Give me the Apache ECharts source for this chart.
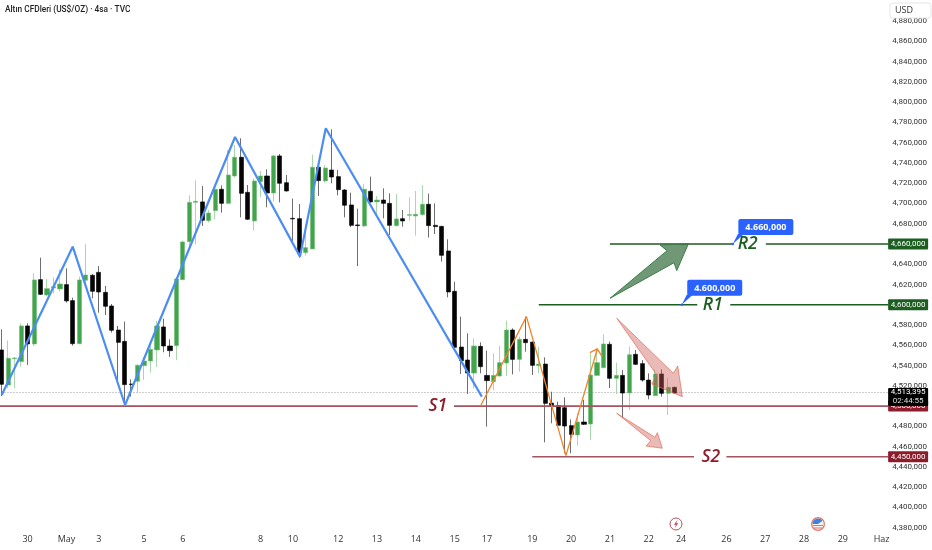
<!DOCTYPE html>
<html><head><meta charset="utf-8">
<style>html,body{margin:0;padding:0;background:#fff}#c{width:932px;height:550px}</style>
<script src="https://cdn.jsdelivr.net/npm/echarts@6/dist/echarts.min.js"></script>
</head><body><div id="c"></div>
<script>
const opens=[4555.4,4520.8,4546.8,4543.9,4579.1,4561.3,4624.8,4609.7,4616.6,4615.6,4619.9,4604.1,4561.6,4624.2,4629.1,4632.0,4612.3,4598.8,4575.1,4563.9,4521.8,4524.5,4539.9,4544.5,4555.4,4578.1,4559.3,4559.7,4624.8,4662.3,4701.1,4701.5,4683.0,4692.9,4714.0,4700.1,4727.1,4745.6,4711.0,4682.7,4721.5,4727.1,4710.3,4746.9,4720.5,4685.3,4685.0,4651.5,4655.1,4735.7,4722.2,4733.0,4726.5,4713.3,4698.5,4678.8,4677.8,4712.0,4701.5,4703.4,4700.1,4678.1,4685.0,4688.3,4687.6,4689.0,4699.2,4678.4,4677.4,4653.1,4613.3,4558.3,4545.5,4532.6,4559.0,4530.3,4524.1,4529.7,4542.5,4575.1,4546.1,4565.9,4563.2,4539.9,4541.5,4503.0,4500.4,4498.4,4480.7,4471.5,4484.3,4482.3,4530.3,4537.9,4561.0,4527.4,4530.3,4512.9,4551.1,4541.9,4525.7,4510.3,4531.7,4512.6,4518.5];
const closes=[4521.5,4547.2,4547.5,4579.1,4561.3,4624.5,4610.3,4615.9,4617.9,4620.5,4603.8,4561.6,4624.5,4629.4,4613.3,4612.6,4598.5,4574.8,4562.9,4521.2,4521.2,4540.3,4544.5,4556.0,4579.1,4559.3,4554.7,4625.5,4662.0,4701.1,4702.1,4683.4,4690.6,4714.0,4700.1,4728.1,4745.6,4710.0,4684.4,4722.2,4727.1,4710.3,4746.9,4719.9,4712.3,4684.7,4651.5,4656.4,4735.7,4722.5,4735.0,4726.1,4713.6,4698.2,4678.4,4678.1,4714.0,4701.5,4703.4,4700.1,4678.4,4684.7,4682.7,4689.0,4689.3,4699.2,4678.1,4677.1,4648.8,4612.6,4558.0,4544.8,4532.6,4559.3,4538.9,4525.1,4530.3,4542.9,4575.1,4546.1,4565.9,4562.6,4540.2,4541.5,4502.7,4500.1,4481.0,4480.3,4472.1,4484.3,4482.0,4530.7,4542.9,4561.3,4527.4,4530.3,4512.9,4550.7,4541.2,4525.7,4510.9,4531.7,4512.6,4518.5,4512.9];
const lows=[4510.0,4517.6,4517.6,4539.0,4540.6,4559.3,4609.7,4608.7,4611.3,4613.0,4602.1,4559.7,4561.3,4618.9,4606.4,4592.2,4589.9,4572.5,4525.8,4501.1,4509.3,4512.6,4525.8,4533.0,4538.9,4553.1,4548.5,4545.5,4624.5,4657.4,4659.7,4677.8,4681.4,4684.4,4690.9,4699.5,4725.8,4686.3,4683.7,4673.2,4706.1,4696.2,4701.8,4701.1,4711.7,4660.0,4646.5,4648.5,4655.1,4707.4,4720.5,4719.9,4708.0,4686.3,4676.5,4638.3,4676.5,4700.8,4689.6,4685.3,4668.9,4677.1,4677.1,4683.0,4668.2,4688.0,4666.3,4669.9,4642.6,4607.4,4557.4,4531.7,4511.9,4517.5,4532.3,4479.7,4515.9,4529.0,4529.7,4531.3,4534.0,4553.7,4530.7,4532.3,4464.2,4483.0,4480.3,4453.4,4453.4,4460.9,4481.3,4466.5,4529.7,4537.3,4517.8,4511.9,4488.9,4496.1,4540.6,4524.1,4506.7,4509.9,4509.3,4491.2,4512.3];
const highs=[4575.8,4564.6,4548.2,4581.7,4581.7,4631.1,4646.5,4625.5,4627.1,4635.0,4636.0,4607.0,4627.8,4659.7,4630.4,4638.3,4618.6,4600.8,4579.1,4583.4,4526.4,4541.2,4548.2,4560.3,4584.0,4586.3,4565.9,4625.5,4663.3,4708.0,4722.8,4717.3,4693.6,4717.3,4717.9,4752.8,4757.7,4764.3,4718.2,4724.8,4732.1,4733.7,4747.9,4748.8,4728.1,4704.8,4699.5,4679.8,4748.2,4736.3,4738.0,4773.2,4733.0,4714.3,4710.7,4694.9,4718.9,4726.5,4707.4,4714.9,4710.0,4709.4,4693.6,4706.1,4712.3,4718.2,4709.7,4700.1,4677.8,4664.6,4622.8,4588.3,4571.8,4566.9,4562.9,4554.7,4552.1,4559.6,4584.3,4576.7,4568.5,4588.3,4563.6,4558.6,4548.1,4514.2,4504.4,4508.6,4486.9,4492.8,4506.0,4552.1,4557.0,4570.8,4563.6,4542.9,4535.6,4558.6,4555.4,4545.5,4532.3,4535.6,4536.3,4527.4,4519.2];
const yTicks=[4380,4400,4420,4440,4460,4480,4500,4520,4540,4560,4580,4600,4620,4640,4660,4680,4700,4720,4740,4760,4780,4800,4820,4840,4860,4880];
const xTickAt=[4,10,15,22,28,40,45,52,58,64,70,75,82,88,94,100,105,112,118,124,130,136];
const xTickText=['30','May','3','5','6','8','10','12','13','14','15','17','19','20','21','22','24','26','27','28','29','Haz'];
const blueZigzag=[[0,4511.0],[10.97,4657.3],[19.06,4501.1],[36.06,4765.6],[46.1,4647.5],[50.08,4774.2],[74.2,4509.3]];
const orangeZigzag=[[74.0,4500.1],[81.1,4588.3],[87.2,4451.1],[92.05,4556.4],[null,null],[90.9,4552.7],[92.05,4556.4],[92.8,4548.8]];
const r2Line=[[94,4660],[113,4660],[null,null],[118.1,4660],[137,4660]];
const r1Line=[[83,4600],[107.5,4600],[null,null],[112.6,4600],[137,4600]];
const s1Line=[[-0.5,4500],[64.3,4500],[null,null],[69.9,4500],[137,4500]];
const s2Line=[[82,4450],[107,4450],[null,null],[112,4450],[137,4450]];
const lastPrice=4513.395;
const levelNames=[[115.3,4660,'R2','#1b5e20'],[109.9,4600,'R1','#1b5e20'],[67.4,4500,'S1','#8c1c2b'],[109.6,4450,'S2','#8c1c2b']];
const greenArrow=[[94.02,4606.4],[102.83,4653.4],[101.75,4659.0],[106.12,4660.0],[104.33,4633.7],[103.91,4641.5]];
const redArrowA=[[95.05,4586.7],[103.8,4532.4],[104.48,4539.6],[105.19,4509.3],[100.46,4521.8],[101.24,4530.7]];
const redArrowB=[[95.05,4492.9],[100.97,4469.2],[101.33,4473.8],[102.1,4458.4],[99.58,4460.6],[100.31,4465.9]];
const callouts=[[113,4660,'4.660,000'],[105.1,4600,'4.600,000']];
const axisTags=[[4600,'4,600,000','#1b5e20'],[4660,'4,660,000','#1b5e20'],[4500,'4,500,000','#8c1c2b'],[4450,'4,450,000','#8c1c2b']];

const GREEN='#43a54b',BLACK='#050505',WICK_G='#a9d8ac',WICK_B='#6e6e6e';
const TAGFONT='Roboto,sans-serif';
const categories=opens.map((_,i)=>i);
for(let i=opens.length;i<138;i++)categories.push(i);
const tickMap={};xTickAt.forEach((p,k)=>tickMap[p]=xTickText[k]);

const bandW=6.47,gridLeft=-1.5,gridW=bandW*138;
const ymin=4377.7,ymax=4900.8;

function lineSeries(data,color,width,type,z){
  return {type:'line',xAxisIndex:1,yAxisIndex:0,data,symbol:'none',silent:true,connectNulls:false,
    lineStyle:{color,width,type:type||'solid'},z:z||4,animation:false};
}
const arrows=[{pts:greenArrow,fill:'rgba(35,95,45,0.65)',stroke:'#3d7d45'},
              {pts:redArrowA,fill:'rgba(205,90,85,0.42)',stroke:'rgba(225,110,90,0.7)'},
              {pts:redArrowB,fill:'rgba(205,90,85,0.42)',stroke:'rgba(225,110,90,0.7)'}];

const option={
  animation:false,backgroundColor:'#fff',
  title:{text:'Altın CFDleri (US$/OZ) · 4sa · TVC',left:5,top:6,padding:0,
    textStyle:{fontFamily:'Roboto,sans-serif',fontSize:8.3,fontWeight:500,color:'#222'}},
  grid:{left:gridLeft,top:0,width:gridW,height:530,containLabel:false,outerBoundsMode:'none'},
  xAxis:[
   {type:'category',data:categories,boundaryGap:true,axisLine:{show:false},axisTick:{show:false},splitLine:{show:false},
    axisLabel:{interval:0,margin:5,fontSize:9,color:'#333',fontFamily:'"Open Sans",sans-serif',
      formatter:(v)=>tickMap[v]||''}},
   {type:'value',show:false,min:-0.5,max:137.5,splitLine:{show:false}}
  ],
  yAxis:{type:'value',position:'right',min:ymin,max:ymax,scale:true,axisLine:{show:false},axisTick:{show:false},splitLine:{show:false},
    axisLabel:{customValues:yTicks,margin:1,fontSize:8,color:'#333',fontFamily:TAGFONT,
      formatter:(v)=>Math.round(v*1000).toLocaleString('en-US')}},
  series:[
   lineSeries([[-0.5,lastPrice],[137,lastPrice]],'#9a9a9a',1,[1,2],1),
   {type:'candlestick',xAxisIndex:0,yAxisIndex:0,barWidth:1,z:2,silent:true,
    data:opens.map((o,i)=>[o,closes[i],lows[i],highs[i]]),
    itemStyle:{color:WICK_G,color0:WICK_B,borderColor:WICK_G,borderColor0:WICK_B,borderWidth:1}},
   {type:'candlestick',xAxisIndex:0,yAxisIndex:0,barWidth:4.6,z:3,silent:true,
    data:opens.map((o,i)=>[o,closes[i],Math.min(o,closes[i]),Math.max(o,closes[i])]),
    itemStyle:{color:GREEN,color0:BLACK,borderColor:'#6dbb72',borderColor0:BLACK,borderWidth:0.6}},
   lineSeries(r2Line,'#1b5e20',1.3),
   lineSeries(r1Line,'#1b5e20',1.3),
   lineSeries(s1Line,'#a2545f',1.6),
   lineSeries(s2Line,'#a2545f',1.6),
   lineSeries(blueZigzag,'#4c8df2',2.2,'solid',6),
   lineSeries(orangeZigzag,'#f4812a',1.3,'solid',6),
   {type:'custom',xAxisIndex:1,yAxisIndex:0,z:7,clip:false,silent:true,
    data:arrows.map((a,i)=>[a.pts[0][0],a.pts[0][1],i]),encode:{x:0,y:1},
    renderItem(p,api){const a=arrows[api.value(2)];
      return {type:'polygon',shape:{points:a.pts.map(q=>api.coord(q))},style:{fill:a.fill,stroke:a.stroke,lineWidth:1}};}},
   {type:'custom',xAxisIndex:1,yAxisIndex:0,z:8,clip:false,silent:true,
    data:levelNames.map((l,i)=>[l[0],l[1],i]),encode:{x:0,y:1},
    renderItem(p,api){const l=levelNames[api.value(2)];const c=api.coord([l[0],l[1]]);
      return {type:'text',x:c[0],y:c[1],style:{text:l[2],fill:l[3],font:'italic 600 17.5px "Open Sans",sans-serif',textAlign:'center',textVerticalAlign:'middle'}};}},
   {type:'custom',xAxisIndex:1,yAxisIndex:0,z:9,clip:false,silent:true,
    data:callouts.map((l,i)=>[l[0],l[1],i]),encode:{x:0,y:1},
    renderItem(p,api){const l=callouts[api.value(2)];const c=api.coord([l[0],l[1]]);
      const x=c[0],y=c[1];
      return {type:'group',children:[
        {type:'polygon',shape:{points:[[x,y],[x+5,y-10],[x+11,y-10]]},style:{fill:'#2962ff'}},
        {type:'circle',shape:{cx:x,cy:y,r:1.2},style:{fill:'#2962ff'}},
        {type:'rect',shape:{x:x+5.5,y:y-25,width:55,height:16,r:2},style:{fill:'#2962ff'}},
        {type:'text',x:x+33,y:y-16.7,style:{text:l[2],fill:'#fff',font:'bold 9px "Open Sans",sans-serif',textAlign:'center',textVerticalAlign:'middle'}}
      ]};}},
   {type:'custom',xAxisIndex:1,yAxisIndex:0,z:10,clip:false,silent:true,
    data:axisTags.map((t,i)=>[137,t[0],i]),encode:{x:0,y:1},
    renderItem(p,api){const t=axisTags[api.value(2)];const c=api.coord([137,t[0]]);
      return {type:'group',children:[
        {type:'rect',shape:{x:c[0],y:c[1]-5.5,width:40,height:11,r:1},style:{fill:t[2]}},
        {type:'text',x:c[0]+20,y:c[1]+0.2,style:{text:t[1],fill:'#fff',font:'8px '+TAGFONT,textAlign:'center',textVerticalAlign:'middle'}}
      ]};}},
   {type:'custom',xAxisIndex:1,yAxisIndex:0,z:11,clip:false,silent:true,
    data:[[137,lastPrice]],encode:{x:0,y:1},
    renderItem(p,api){const c=api.coord([137,api.value(1)]);
      return {type:'group',children:[
        {type:'rect',shape:{x:c[0],y:c[1]-4.6,width:40,height:18,r:1},style:{fill:'#000'}},
        {type:'text',x:c[0]+20,y:c[1]-0.2,style:{text:'4,513,395',fill:'#fff',font:'8px '+TAGFONT,textAlign:'center',textVerticalAlign:'middle'}},
        {type:'text',x:c[0]+20,y:c[1]+8.6,style:{text:'02:44:55',fill:'#ddd',font:'8px '+TAGFONT,textAlign:'center',textVerticalAlign:'middle'}}
      ]};}}
  ],
  graphic:[
   {type:'rect',z:50,shape:{x:890,y:3,width:41,height:15,r:3},style:{fill:'#fff',stroke:'#e6e6e6',lineWidth:1}},
   {type:'text',z:51,x:895,y:6,style:{text:'USD',fill:'#333',font:'9px "Open Sans",sans-serif'}},
   {type:'circle',z:50,shape:{cx:676,cy:524,r:6},style:{fill:'#fff',stroke:'#b5525c',lineWidth:1}},
   {type:'polygon',z:51,shape:{points:[[677.6,520],[673.8,524.8],[675.9,524.8],[674.8,528],[678.4,523.2],[676.3,523.2]]},style:{fill:'#b5525c'}},
   {type:'circle',z:50,shape:{cx:818,cy:524,r:6.4},style:{fill:'#f6f0ee',stroke:'#e2766b',lineWidth:1.2}},
   {type:'sector',z:51,shape:{cx:818,cy:524,r:5.6,r0:0,startAngle:Math.PI,endAngle:Math.PI*1.8},style:{fill:'#3f7fe0'}},
   {type:'line',z:51,shape:{x1:813,y1:525.5,x2:823,y2:525.5},style:{stroke:'#e2766b',lineWidth:1}},
   {type:'line',z:51,shape:{x1:814,y1:528,x2:822,y2:528},style:{stroke:'#e2766b',lineWidth:1}}
  ]
};
const chart=echarts.init(document.getElementById('c'),null,{renderer:'canvas',width:932,height:550});
chart.setOption(option);
</script></body></html>
